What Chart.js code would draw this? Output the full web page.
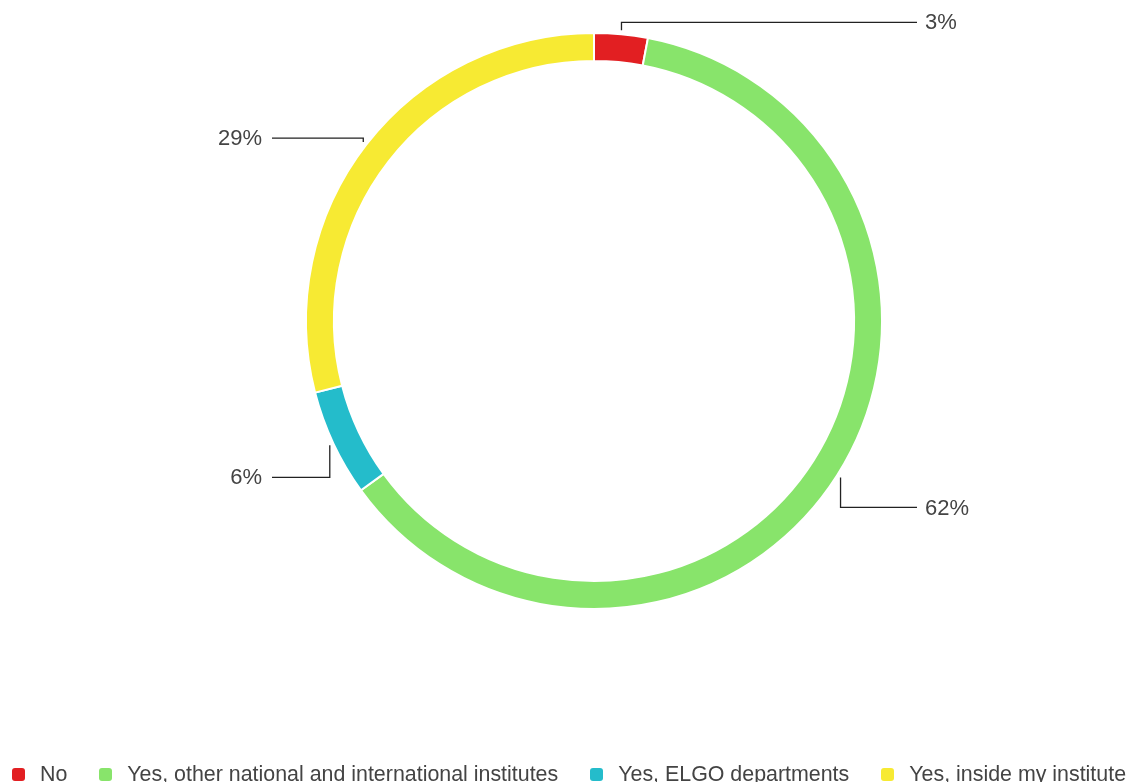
<!DOCTYPE html>
<html lang="en">
<head>
    <meta charset="UTF-8">
    <title>Collaboration</title>
    <script src="https://cdn.jsdelivr.net/npm/chart.js@4.4.1/dist/chart.umd.min.js"></script>
    <style>
        body { margin: 0; background: #fff; font-family: Arial, "Liberation Sans", sans-serif; }
        .wrap { position: relative; width: 1138px; height: 782px; overflow: hidden; }
        .wrap canvas { position: absolute; left: 0; top: 0; }
        #legend {
            position: absolute; left: 0; top: 762px; width: 1138px; height: 24px;
            display: flex; justify-content: center; align-items: center;
            font-size: 21.4px; color: #444; white-space: nowrap;
        }
        #legend .item { display: flex; align-items: center; margin: 0 16px; }
        #legend .box { width: 13px; height: 13px; border-radius: 3px; margin-right: 15px; }
    </style>
</head>
<body>
    <div class="wrap">
        <canvas id="ring" width="1138" height="782"></canvas>
        <div id="legend"></div>
    </div>

    <script>
        // answers and shares (percent)
        const answers = ['No', 'Yes, other national and international institutes', 'Yes, ELGO departments', 'Yes, inside my institute'];
        const shares = [3, 62, 6, 29];
        const colors = ['#e21f22', '#88e46b', '#24bccb', '#f7ea33'];
        // vertical shift of each label relative to where its leader starts
        const labelShift = [-8, 30, 32, -4];

        // leader lines + percentage labels
        const leaderLabels = {
            id: 'leaderLabels',
            afterDatasetsDraw(chart) {
                const ctx = chart.ctx;
                const meta = chart.getDatasetMeta(0);
                const total = shares.reduce((a, b) => a + b, 0);
                ctx.save();
                ctx.strokeStyle = '#222';
                ctx.lineWidth = 1.3;
                ctx.fillStyle = '#444';
                ctx.font = '22px Arial, "Liberation Sans", sans-serif';
                ctx.textBaseline = 'middle';
                meta.data.forEach((arc, i) => {
                    const p = arc.getProps(['x', 'y', 'startAngle', 'endAngle', 'outerRadius'], true);
                    const mid = (p.startAngle + p.endAngle) / 2;
                    const r = p.outerRadius + 4;
                    const sx = p.x + Math.cos(mid) * r;
                    const sy = p.y + Math.sin(mid) * r;
                    const ly = sy + labelShift[i];
                    const right = Math.cos(mid) >= 0;
                    const ex = right ? p.x + 323 : p.x - 322;
                    ctx.beginPath();
                    ctx.moveTo(sx, sy);
                    ctx.lineTo(sx, ly);
                    ctx.lineTo(ex, ly);
                    ctx.stroke();
                    const txt = Math.round(shares[i] / total * 100) + '%';
                    ctx.textAlign = right ? 'left' : 'right';
                    ctx.fillText(txt, right ? ex + 8 : ex - 10, ly + 1);
                });
                ctx.restore();
            }
        };

        new Chart(document.getElementById('ring'), {
            type: 'doughnut',
            data: {
                labels: answers,
                datasets: [{
                    data: shares,
                    backgroundColor: colors,
                    borderColor: '#fff',
                    borderWidth: 2,
                    radius: 288,
                    cutout: '90.3%'
                }]
            },
            options: {
                responsive: false,
                animation: false,
                layout: { padding: { left: 50, right: 0, top: 0, bottom: 140 } },
                plugins: {
                    legend: { display: false },
                    tooltip: { enabled: false }
                }
            },
            plugins: [leaderLabels]
        });

        // legend row under the ring
        const legend = document.getElementById('legend');
        answers.forEach((name, i) => {
            const item = document.createElement('div');
            item.className = 'item';
            const box = document.createElement('span');
            box.className = 'box';
            box.style.background = colors[i];
            const label = document.createElement('span');
            label.textContent = name;
            item.appendChild(box);
            item.appendChild(label);
            legend.appendChild(item);
        });
    </script>
</body>
</html>
